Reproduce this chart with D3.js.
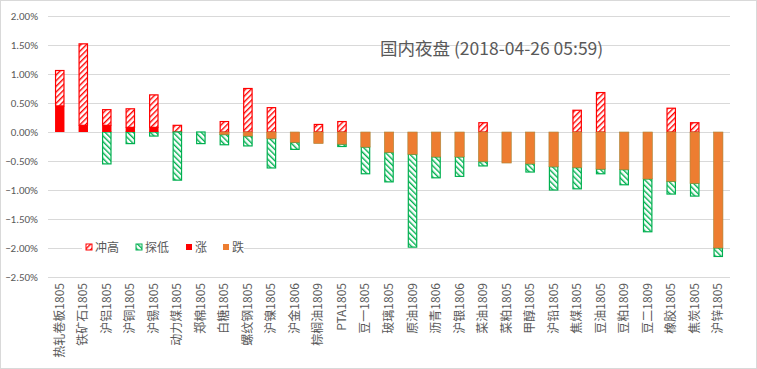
<!DOCTYPE html>
<html><head><meta charset="utf-8">
<script src="https://cdn.jsdelivr.net/npm/d3@7/dist/d3.min.js"></script>
<style>
html,body{margin:0;padding:0;background:#fff;}
svg{display:block;font-family:"Noto Sans CJK SC","Noto Sans",sans-serif;}
</style></head>
<body><svg id="c" width="757" height="369"></svg>
<script>
const categories = ["热轧卷板1805","铁矿石1805","沪铝1805","沪铜1805","沪锡1805","动力煤1805","郑棉1805","白糖1805","螺纹钢1805","沪镍1805","沪金1806","棕榈油1809","PTA1805","豆一1805","玻璃1805","原油1809","沥青1806","沪银1806","菜油1809","菜粕1805","甲醇1805","沪铅1805","焦煤1805","豆油1805","豆粕1809","豆二1809","橡胶1805","焦炭1805","沪锌1805"];
// close change, intraday high, intraday low (%)
const closeVals = [0.45,0.115,0.115,0.08,0.08,0,0,-0.045,-0.07,-0.115,-0.18,-0.20,-0.21,-0.26,-0.35,-0.385,-0.43,-0.43,-0.51,-0.535,-0.55,-0.60,-0.615,-0.64,-0.65,-0.81,-0.85,-0.885,-2.00];
const highVals  = [1.06,1.52,0.385,0.40,0.64,0.115,0,0.18,0.75,0.42,0,0.13,0.18,0,0,0,0,0,0.16,0,0,0,0.375,0.68,0,0,0.41,0.16,0];
const lowVals   = [0,0,-0.55,-0.20,-0.07,-0.83,-0.20,-0.22,-0.24,-0.62,-0.30,-0.20,-0.25,-0.72,-0.86,-1.985,-0.79,-0.765,-0.585,-0.535,-0.69,-1.00,-0.98,-0.72,-0.91,-1.72,-1.07,-1.105,-2.146];
const yTicks = [2.0,1.5,1.0,0.5,0,-0.5,-1.0,-1.5,-2.0,-2.5];
const legendNames = ["冲高","探低","涨","跌"];
const titleText = "国内夜盘 (2018-04-26 05:59)";

const svg = d3.select("#c");
const defs = svg.append("defs");
function hatch(id, color, angle){
  const p = defs.append("pattern").attr("id", id).attr("patternUnits","userSpaceOnUse")
    .attr("width",4).attr("height",4).attr("patternTransform",`rotate(${angle})`);
  p.append("rect").attr("width",4).attr("height",4).attr("fill","#fff");
  p.append("rect").attr("x",0).attr("y",0).attr("width",1.4).attr("height",4).attr("fill",color);
}
hatch("hRed","#FF0000",45);
hatch("hGreen","#00B050",-45);

// outer border
svg.append("rect").attr("x",0.5).attr("y",0.5).attr("width",756).attr("height",368)
  .attr("fill","#fff").attr("stroke","#d9d9d9");

const x = d3.scaleBand().domain(categories).range([48,730]).paddingInner(0.6).paddingOuter(0.3);
const y = d3.scaleLinear().domain([-2.5,2.0]).range([277,16]);

// gridlines
svg.append("g").selectAll("line").data(yTicks).join("line")
  .attr("x1",48).attr("x2",730).attr("y1",d=>Math.round(y(d))+0.5).attr("y2",d=>Math.round(y(d))+0.5)
  .attr("stroke","#d9d9d9").attr("stroke-width",1);

// y axis
const yAxis = d3.axisLeft(y).tickValues(yTicks).tickFormat(d=>d3.format(".2f")(d)+"%").tickSize(0).tickPadding(0);
const ya = svg.append("g").attr("transform","translate(38,0)").call(yAxis);
ya.select(".domain").remove();
ya.selectAll("text").attr("fill","#595959").style("font-size","11px").style("font-family","Calibri,Carlito,'Liberation Sans',sans-serif");

// bars
const rows = categories.map((c,i)=>({c, close:closeVals[i], high:highVals[i], low:lowVals[i]}));
const bw = x.bandwidth();
const g = svg.append("g");
rows.forEach(r=>{
  const x0 = x(r.c);
  const up = Math.max(r.close,0), dn = Math.min(r.close,0);
  // 冲高
  if (r.high > up + 1e-9) {
    g.append("rect").attr("x",x0+0.5).attr("y",y(r.high)).attr("width",bw-1).attr("height",y(up)-y(r.high))
      .attr("fill","url(#hRed)").attr("stroke","#FF0000").attr("stroke-width",1.2);
  }
  // 探低
  if (r.low < dn - 1e-9) {
    g.append("rect").attr("x",x0+0.5).attr("y",y(dn)).attr("width",bw-1).attr("height",y(r.low)-y(dn))
      .attr("fill","url(#hGreen)").attr("stroke","#00B050").attr("stroke-width",1.2);
  }
  // 涨
  if (up > 0) {
    g.append("rect").attr("x",x0).attr("y",y(up)).attr("width",bw).attr("height",y(0)-y(up)).attr("fill","#FF0000");
  }
  // 跌
  if (dn < 0) {
    g.append("rect").attr("x",x0).attr("y",y(0)).attr("width",bw).attr("height",y(dn)-y(0))
      .attr("fill","#ED7D31").attr("stroke","#A8863A").attr("stroke-width",0.6);
  }
});

// x labels
const xl = svg.append("g");
categories.forEach(c=>{
  const cx = x(c)+bw/2;
  xl.append("text").attr("transform",`translate(${cx+4},283) rotate(-90)`)
    .attr("text-anchor","end").attr("fill","#595959").style("font-size","12px").text(c);
});

// title
svg.append("text").attr("x",380).attr("y",55).attr("fill","#595959").style("font-size","17.5px").text(titleText);

// legend
const lg = svg.append("g");
lg.append("rect").attr("x",82).attr("y",240).attr("width",162).attr("height",16).attr("fill","#fff");
const lx = [86,136,186,223];
const lfill = ["url(#hRed)","url(#hGreen)","#FF0000","#ED7D31"];
const lstroke = ["#FF0000","#00B050","none","none"];
legendNames.forEach((n,i)=>{
  lg.append("rect").attr("x",lx[i]).attr("y",244).attr("width",6).attr("height",6)
    .attr("fill",lfill[i]).attr("stroke",lstroke[i]).attr("stroke-width",1);
  lg.append("text").attr("x",lx[i]+9).attr("y",252).attr("fill","#595959").style("font-size","12px").text(n);
});
</script></body></html>
